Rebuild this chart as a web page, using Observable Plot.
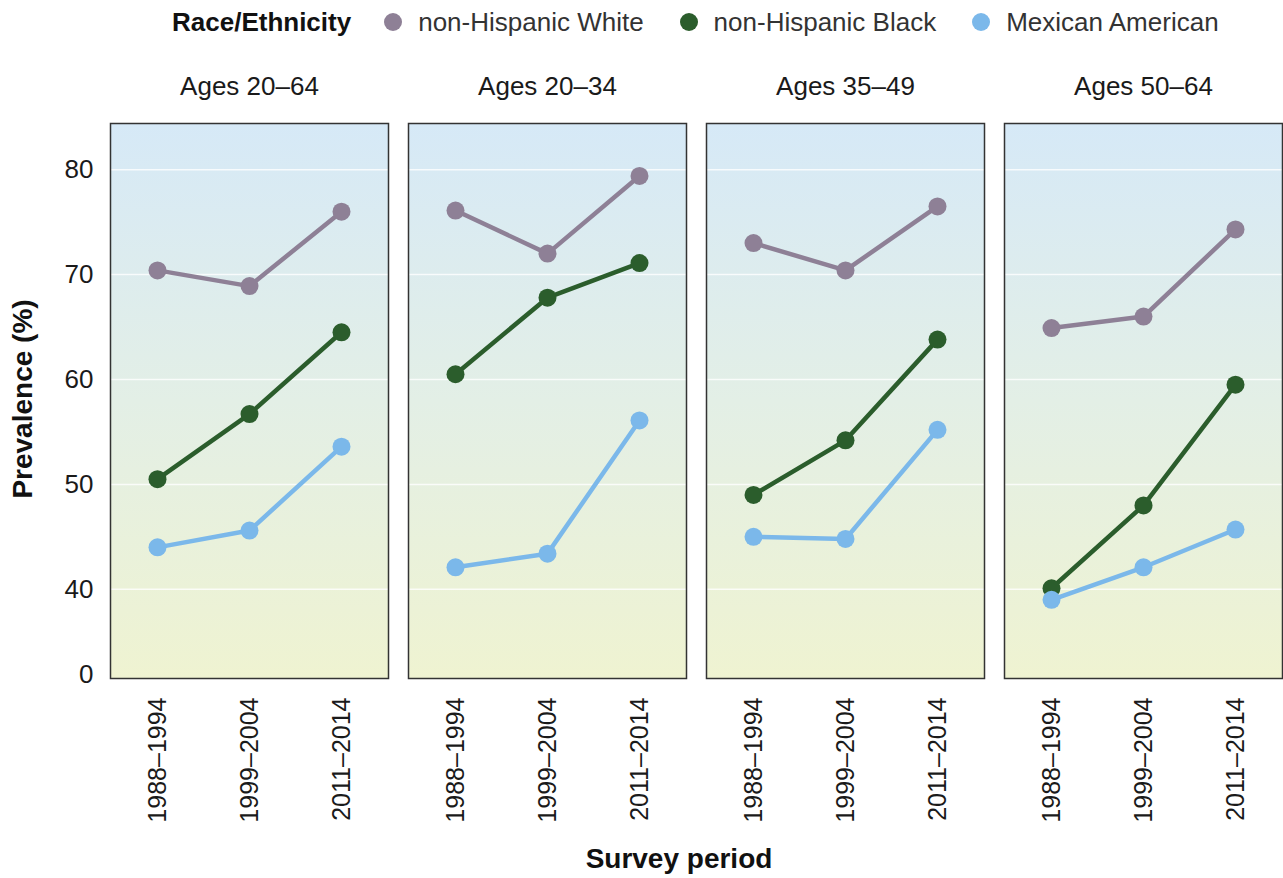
<!DOCTYPE html>
<html>
<head>
<meta charset="utf-8">
<script src="https://cdn.jsdelivr.net/npm/d3@7"></script>
<script src="https://cdn.jsdelivr.net/npm/@observablehq/plot@0.6"></script>
<style>
  html, body { margin: 0; padding: 0; background: #ffffff; }
  body { width: 1283px; height: 878px; overflow: hidden; font-family: "Liberation Sans", Arial, Helvetica, sans-serif; }
  #legend { position: relative; height: 50px; display: flex; align-items: center; padding-left: 172px; padding-bottom: 6px; font-size: 26px; color: #333; box-sizing: border-box; }
  #legend .title { font-weight: bold; color: #111; margin-right: 33px; }
  #legend .item { display: flex; align-items: center; margin-right: 36px; }
  #legend .sw { width: 18px; height: 18px; border-radius: 50%; margin-right: 16px; }
  #chart svg { display: block; }
</style>
</head>
<body>
<div id="legend"></div>
<div id="chart"></div>
<script>
// ---- data ----
const ageGroups = ["Ages 20–64", "Ages 20–34", "Ages 35–49", "Ages 50–64"];
const periods = ["1988–1994", "1999–2004", "2011–2014"];
const groups = ["non-Hispanic White", "non-Hispanic Black", "Mexican American"];
const groupColors = ["#8e8096", "#2b5d2c", "#7bb8ea"];
const legendTitle = "Race/Ethnicity";

// prevalence (%) per age group, by survey period
const whiteValues = [[70.4, 68.9, 76.0], [76.1, 72.0, 79.4], [73.0, 70.4, 76.5], [64.9, 66.0, 74.3]];
const blackValues = [[50.5, 56.7, 64.5], [60.5, 67.8, 71.1], [49.0, 54.2, 63.8], [40.1, 48.0, 59.5]];
const mexicanValues = [[44.0, 45.6, 53.6], [42.1, 43.4, 56.1], [45.0, 44.8, 55.2], [39.0, 42.1, 45.7]];

// y axis: broken axis, "0" drawn at the bottom of the panel
const yTickValues = [31.9, 40, 50, 60, 70, 80];
const yTickLabels = ["0", "40", "50", "60", "70", "80"];
const gridValues = [40, 50, 60, 70, 80];
const yDomain = [31.5, 84.4];

const yTitle = "Prevalence (%)";
const xTitle = "Survey period";

// ---- build table ----
const seriesByGroup = [whiteValues, blackValues, mexicanValues];
const data = [];
groups.forEach((g, gi) => {
  ageGroups.forEach((a, ai) => {
    periods.forEach((p, pi) => {
      data.push({group: g, age: a, period: p, value: seriesByGroup[gi][ai][pi]});
    });
  });
});

const tickLabelMap = new Map(yTickValues.map((v, i) => [v, yTickLabels[i]]));

// ---- legend ----
const legend = document.getElementById("legend");
const lt = document.createElement("span");
lt.className = "title"; lt.textContent = legendTitle;
legend.appendChild(lt);
groups.forEach((g, i) => {
  const it = document.createElement("span"); it.className = "item";
  const sw = document.createElement("span"); sw.className = "sw"; sw.style.background = groupColors[i];
  const tx = document.createElement("span"); tx.textContent = g;
  it.appendChild(sw); it.appendChild(tx); legend.appendChild(it);
});

// ---- plot ----
const H = 828;
const chart = Plot.plot({
  width: 1283,
  height: H,
  marginLeft: 110,
  marginRight: 0,
  marginTop: 73,
  marginBottom: 200,
  style: {fontFamily: "'Liberation Sans', Arial, Helvetica, sans-serif", background: "#ffffff", color: "#1a1a1a"},
  fx: {domain: ageGroups, padding: 0.067, label: null},
  x: {domain: periods, type: "point", padding: 0.5, label: null},
  y: {domain: yDomain, label: null},
  color: {domain: groups, range: groupColors},
  marks: [
    Plot.frame({fill: "url(#panelbg)"}),
    Plot.ruleY(gridValues, {stroke: "#ffffff", strokeOpacity: 0.8, strokeWidth: 1.5}),
    Plot.line(data, {fx: "age", x: "period", y: "value", z: "group", stroke: "group", strokeWidth: 4.5}),
    Plot.dot(data, {fx: "age", x: "period", y: "value", fill: "group", r: 9}),
    Plot.frame({stroke: "#333", strokeWidth: 1.5}),
    Plot.axisY(yTickValues, {tickSize: 0, tickPadding: 17, fontSize: 26, label: null, tickFormat: d => tickLabelMap.get(d)}),
    Plot.axisX({tickRotate: -90, tickSize: 0, tickPadding: 19, fontSize: 25, label: null}),
    Plot.axisFx({anchor: "top", tickSize: 0, tickPadding: 29, fontSize: 26, label: null})
  ]
});

// gradient definition for panel backgrounds
const svg = d3.select(chart.tagName.toLowerCase() === "svg" ? chart : chart.querySelector("svg"));
const defs = svg.insert("defs", ":first-child");
const grad = defs.append("linearGradient").attr("id", "panelbg")
  .attr("x1", 0).attr("y1", 0).attr("x2", 0).attr("y2", 1);
grad.append("stop").attr("offset", "0%").attr("stop-color", "#d6e9f7");
grad.append("stop").attr("offset", "50%").attr("stop-color", "#e3efe6");
grad.append("stop").attr("offset", "100%").attr("stop-color", "#eff3d1");

// axis titles
svg.append("text")
  .attr("transform", "translate(22,349) rotate(-90)")
  .attr("text-anchor", "middle").attr("dy", "0.35em")
  .attr("font-size", 28).attr("font-weight", "bold").attr("fill", "#111")
  .text(yTitle);
svg.append("text")
  .attr("x", 679).attr("y", 808)
  .attr("text-anchor", "middle").attr("dy", "0.35em")
  .attr("font-size", 28).attr("font-weight", "bold").attr("fill", "#111")
  .text(xTitle);

document.getElementById("chart").appendChild(chart);
</script>
</body>
</html>
